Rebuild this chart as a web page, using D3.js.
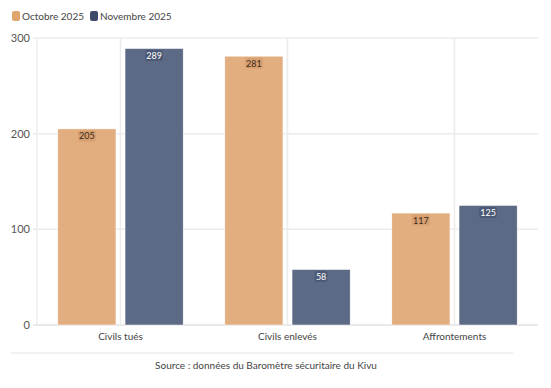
<!DOCTYPE html>
<html>
<head>
<meta charset="utf-8">
<script src="https://cdn.jsdelivr.net/npm/d3@7"></script>
<style>
  body { margin: 0; background: #fff; }
  text { font-family: Lato, "Open Sans", sans-serif; }
</style>
</head>
<body>
<svg id="chart" width="551" height="388"></svg>
<script>
// données
var categories = ["Civils tués", "Civils enlevés", "Affrontements"];
var seriesNames = ["Octobre 2025", "Novembre 2025"];
var octobre = [205, 281, 117];
var novembre = [289, 58, 125];
var yTicks = [0, 100, 200, 300];
var source = "Source : données du Baromètre sécuritaire du Kivu";

var barColors = ["#e2ad7f", "#5d6a86"];
var legendColors = ["#e0a56d", "#3d4a6a"];
var labelBg = ["#d49a6a", "#46536f"];
var labelFg = ["#3a2a1a", "#ffffff"];

var svg = d3.select("#chart");
var margin = {left: 37, right: 13, top: 38, bottom: 63};
var W = 551, H = 388;

var x0 = d3.scaleBand().domain(categories).range([margin.left, W - margin.right]);
var x1 = d3.scaleBand().domain(seriesNames).range([0, x0.bandwidth()]).paddingInner(0.135).paddingOuter(0.31);
var y = d3.scaleLinear().domain([0, 300]).range([H - margin.bottom, margin.top]);

// grille horizontale
svg.append("g").selectAll("line").data(yTicks).enter().append("line")
  .attr("x1", margin.left - 4).attr("x2", W - margin.right)
  .attr("y1", d => y(d)).attr("y2", d => y(d))
  .style("stroke", d => d === 0 ? "#e2e2e2" : "#ececec").style("stroke-width", 1.5);

// grille verticale
var vlines = [margin.left].concat(categories.map(c => x0(c) + x0.bandwidth() / 2));
svg.append("g").selectAll("line").data(vlines).enter().append("line")
  .attr("x1", d => d).attr("x2", d => d)
  .attr("y1", y(300)).attr("y2", y(0))
  .style("stroke", "#ececec").style("stroke-width", 1.5);

// axe y
svg.append("g").selectAll("text").data(yTicks).enter().append("text")
  .attr("x", 30).attr("y", d => y(d) + 4)
  .attr("text-anchor", "end")
  .style("font-size", "11px").style("fill", "#555")
  .text(d => d);

// barres
var data = categories.map((c, i) => ({cat: c, vals: [octobre[i], novembre[i]]}));
var groups = svg.append("g").selectAll("g").data(data).enter().append("g")
  .attr("transform", d => "translate(" + x0(d.cat) + ",0)");

groups.selectAll("rect").data(d => d.vals.map((v, j) => ({v: v, j: j}))).enter().append("rect")
  .attr("x", d => x1(seriesNames[d.j]))
  .attr("y", d => y(d.v))
  .attr("width", x1.bandwidth())
  .attr("height", d => y(0) - y(d.v))
  .style("fill", d => barColors[d.j])
  .style("stroke", "#fff").style("stroke-width", 0.5);

// étiquettes de valeurs
groups.each(function(d) {
  var g = d3.select(this);
  d.vals.forEach(function(v, j) {
    var cx = x1(seriesNames[j]) + x1.bandwidth() / 2;
    var t = g.append("text")
      .attr("x", cx).attr("y", y(v) + 10.5)
      .attr("text-anchor", "middle")
      .style("font-size", "9px").style("fill", labelFg[j])
      .text(v);
    var bb = t.node().getBBox();
    g.insert("rect", "text")
      .attr("x", bb.x - 1).attr("y", bb.y)
      .attr("width", bb.width + 2).attr("height", bb.height)
      .attr("rx", 2)
      .style("fill", labelBg[j]).style("opacity", 0.7);
  });
});

// étiquettes x
svg.append("g").selectAll("text").data(categories).enter().append("text")
  .attr("x", d => x0(d) + x0.bandwidth() / 2).attr("y", y(0) + 15)
  .attr("text-anchor", "middle")
  .style("font-size", "10px").style("fill", "#444")
  .text(d => d);

// légende
var lx = 12;
seriesNames.forEach(function(s, i) {
  svg.append("rect").attr("x", lx).attr("y", 11).attr("width", 8).attr("height", 10).attr("rx", 2)
    .style("fill", legendColors[i]);
  var t = svg.append("text").attr("x", lx + 10).attr("y", 20)
    .style("font-size", "10px").style("fill", "#444").text(s);
  lx += 10 + t.node().getComputedTextLength() + 6;
});

// séparateur + source
svg.append("line").attr("x1", 11).attr("x2", 513).attr("y1", 353).attr("y2", 353)
  .style("stroke", "#ececec").style("stroke-width", 1.5);
svg.append("text").attr("x", 266).attr("y", 369).attr("text-anchor", "middle")
  .style("font-size", "10px").style("fill", "#444").text(source);
</script>
</body>
</html>
